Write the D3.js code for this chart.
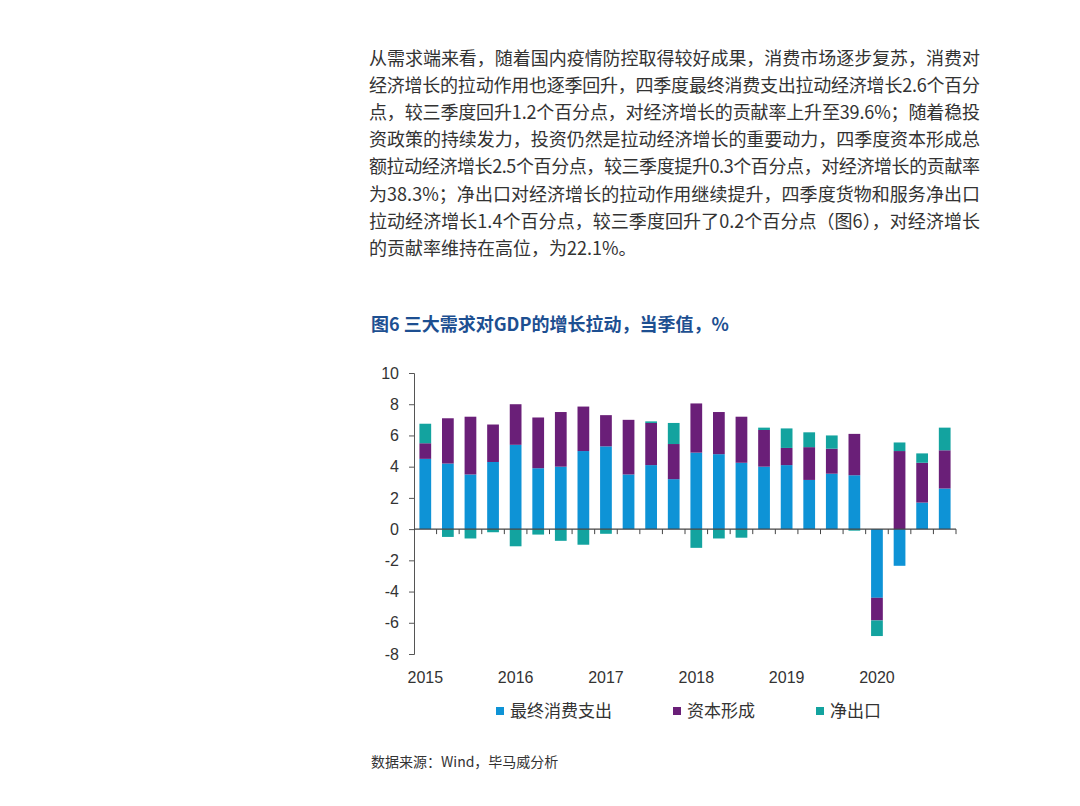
<!DOCTYPE html>
<html><head><meta charset="utf-8">
<script src="https://cdn.jsdelivr.net/npm/d3@7"></script>
<style>body{margin:0;background:#fff;} svg{display:block;}</style>
</head><body>
<svg id="c" width="1080" height="806"></svg>
<script>
const paragraph = [
  "从需求端来看，随着国内疫情防控取得较好成果，消费市场逐步复苏，消费对",
  "经济增长的拉动作用也逐季回升，四季度最终消费支出拉动经济增长2.6个百分",
  "点，较三季度回升1.2个百分点，对经济增长的贡献率上升至39.6%；随着稳投",
  "资政策的持续发力，投资仍然是拉动经济增长的重要动力，四季度资本形成总",
  "额拉动经济增长2.5个百分点，较三季度提升0.3个百分点，对经济增长的贡献率",
  "为38.3%；净出口对经济增长的拉动作用继续提升，四季度货物和服务净出口",
  "拉动经济增长1.4个百分点，较三季度回升了0.2个百分点（图6），对经济增长",
  "的贡献率维持在高位，为22.1%。"
];
const title = "图6 三大需求对GDP的增长拉动，当季值，%";
const source = "数据来源：Wind，毕马威分析";
const quarters = ["2015Q1","2015Q2","2015Q3","2015Q4","2016Q1","2016Q2","2016Q3","2016Q4",
  "2017Q1","2017Q2","2017Q3","2017Q4","2018Q1","2018Q2","2018Q3","2018Q4",
  "2019Q1","2019Q2","2019Q3","2019Q4","2020Q1","2020Q2","2020Q3","2020Q4"];
const yearLabels = ["2015","2016","2017","2018","2019","2020"];
const seriesNames = ["最终消费支出","资本形成","净出口"];
const consumption = [4.5,4.2,3.5,4.3,5.4,3.9,4.0,5.0,5.3,3.5,4.1,3.2,4.9,4.8,4.25,4.0,4.1,3.15,3.55,3.45,-4.4,-2.35,1.7,2.6];
const capital     = [1.0,2.9,3.7,2.4,2.6,3.25,3.5,2.85,2.0,3.5,2.7,2.25,3.15,2.7,2.95,2.35,1.1,2.1,1.6,2.65,-1.45,5.0,2.55,2.45];
const netExport   = [1.25,-0.5,-0.6,-0.2,-1.1,-0.35,-0.75,-1.0,-0.3,0.0,0.1,1.35,-1.2,-0.6,-0.55,0.15,1.25,0.95,0.85,-0.1,-1.0,0.55,0.6,1.45];
const yTicks = [-8,-6,-4,-2,0,2,4,6,8,10];
const colors = ["#0E93D6","#6A1F78","#13A39F"];

(function(){
const svg = d3.select("#c");
const cjk = "'Noto Sans CJK SC','Noto Sans',sans-serif";
const num = "'Liberation Sans',Arial,sans-serif";

// paragraph (justified to right edge)
paragraph.forEach((line,i)=>{
  const t = svg.append("text").attr("x",369).attr("y",65+i*27.1)
    .attr("font-family",cjk).attr("font-size",18).attr("fill","#333").text(line);
  if(i<paragraph.length-1){
    const w = t.node().getComputedTextLength();
    const nch = Array.from(line).length;
    t.attr("letter-spacing",(611-w)/(nch-1));
  }
});

// title
svg.append("text").attr("x",371).attr("y",331).attr("font-family",cjk)
  .attr("font-size",18).attr("font-weight","bold").attr("fill","#1D4F91").text(title);

// chart
const pL=414,pR=956,pT=373,pB=654;
const y = d3.scaleLinear().domain([-8,10]).range([pB,pT]);
const x = d3.scaleBand().domain(quarters).range([pL,pR]).paddingInner(0.48).paddingOuter(0.24);

const data = quarters.map((q,i)=>({q, a:consumption[i], b:capital[i], c:netExport[i]}));
const stack = d3.stack().keys(["a","b","c"]).offset(d3.stackOffsetDiverging)(data);

svg.append("g").selectAll("g").data(stack).join("g").attr("fill",(d,i)=>colors[i])
  .selectAll("rect").data(d=>d).join("rect")
  .attr("x",d=>x(d.data.q)).attr("width",x.bandwidth())
  .attr("y",d=>y(Math.max(d[0],d[1]))).attr("height",d=>Math.abs(y(d[0])-y(d[1])));

// y axis
const yAxis = svg.append("g").attr("transform",`translate(${pL},0)`)
  .call(d3.axisLeft(y).tickValues(yTicks).tickSize(5).tickPadding(10).tickFormat(d=>String(d)));
yAxis.select(".domain").attr("stroke","#555");
yAxis.selectAll(".tick line").attr("stroke","#555");
yAxis.selectAll("text").attr("font-family",num).attr("font-size",16).attr("fill","#333");

// x axis at zero
const n = quarters.length;
const xg = svg.append("g").attr("transform",`translate(0,${y(0)})`);
xg.append("line").attr("x1",pL).attr("x2",pR).attr("stroke","#444").attr("stroke-width",1.2);
xg.selectAll("line.t").data(d3.range(1,n+1)).join("line").attr("class","t")
  .attr("x1",i=>pL+i*(pR-pL)/n).attr("x2",i=>pL+i*(pR-pL)/n)
  .attr("y1",0).attr("y2",5).attr("stroke","#444");

// year labels
svg.append("g").selectAll("text").data(yearLabels).join("text")
  .attr("x",d=>x(d+"Q1")+x.bandwidth()/2).attr("y",683).attr("text-anchor","middle")
  .attr("font-family",num).attr("font-size",16).attr("fill","#333").text(d=>d);

// legend
const legX = [496,673,816];
const lg = svg.append("g");
seriesNames.forEach((s,i)=>{
  lg.append("rect").attr("x",legX[i]).attr("y",707).attr("width",8).attr("height",8).attr("fill",colors[i]);
  lg.append("text").attr("x",legX[i]+14).attr("y",717).attr("font-family",cjk).attr("font-size",17)
    .attr("fill","#333").text(s);
});

// source
svg.append("text").attr("x",371).attr("y",767).attr("font-family",cjk).attr("font-size",14)
  .attr("fill","#333").text(source);
})();
</script>
</body></html>
